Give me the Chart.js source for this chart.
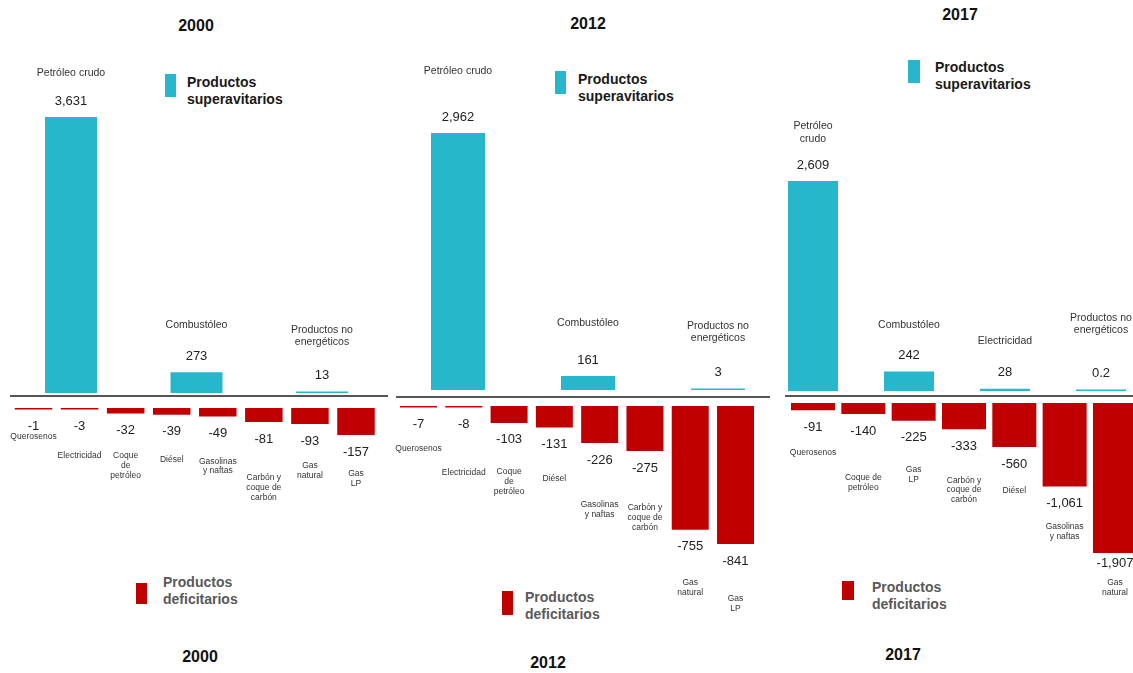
<!DOCTYPE html>
<html>
<head>
<meta charset="utf-8">
<script src="https://cdn.jsdelivr.net/npm/chart.js@4/dist/chart.umd.min.js"></script>
<style>
  html, body { margin:0; padding:0; background:#fff; overflow:hidden; }
  #wrap { position:relative; width:1133px; height:673px; overflow:hidden; background:#fff; font-family:"Liberation Sans", Arial, sans-serif; }
  canvas { position:absolute; }
  .title { position:absolute; transform:translate(-50%,-50%); font-weight:bold; font-size:16px; color:#111; white-space:nowrap; }
  .leg { position:absolute; font-weight:bold; font-size:14px; line-height:17px; white-space:nowrap; }
  .sq { position:absolute; }
</style>
</head>
<body>
<div id="wrap">
  <div class="title" style="left:196px;top:26px">2000</div>
  <div class="title" style="left:588px;top:23.5px">2012</div>
  <div class="title" style="left:960px;top:15px">2017</div>
  <div class="title" style="left:200px;top:657px">2000</div>
  <div class="title" style="left:548px;top:663px">2012</div>
  <div class="title" style="left:903px;top:655px">2017</div>

  <div class="sq" style="left:165px;top:74px;width:11px;height:23px;background:#26B7CD"></div>
  <div class="leg" style="left:187px;top:73.5px;color:#1a1a1a">Productos<br>superavitarios</div>
  <div class="sq" style="left:555px;top:71px;width:11px;height:23px;background:#26B7CD"></div>
  <div class="leg" style="left:578px;top:70.5px;color:#1a1a1a">Productos<br>superavitarios</div>
  <div class="sq" style="left:908px;top:60px;width:12px;height:23px;background:#26B7CD"></div>
  <div class="leg" style="left:935px;top:58.5px;color:#1a1a1a">Productos<br>superavitarios</div>

  <div class="sq" style="left:136px;top:583px;width:11px;height:21px;background:#C00000"></div>
  <div class="leg" style="left:163px;top:573.5px;color:#595959">Productos<br>deficitarios</div>
  <div class="sq" style="left:502px;top:591px;width:11px;height:24px;background:#C00000"></div>
  <div class="leg" style="left:525px;top:588.5px;color:#595959">Productos<br>deficitarios</div>
  <div class="sq" style="left:842px;top:581px;width:12px;height:19px;background:#C00000"></div>
  <div class="leg" style="left:872px;top:578.5px;color:#595959">Productos<br>deficitarios</div>
</div>
<script>
// ---------------- DATA ----------------
const years = ['2000', '2012', '2017'];

const surplusCats2000 = [['Petróleo crudo'], ['Combustóleo'], ['Productos no', 'energéticos']];
const surplusVals2000 = [3631, 273, 13];
const deficitCats2000 = [['Querosenos'], ['Electricidad'], ['Coque', 'de', 'petróleo'], ['Diésel'], ['Gasolinas', 'y naftas'], ['Carbón y', 'coque de', 'carbón'], ['Gas', 'natural'], ['Gas', 'LP']];
const deficitVals2000 = [-1, -3, -32, -39, -49, -81, -93, -157];

const surplusCats2012 = [['Petróleo crudo'], ['Combustóleo'], ['Productos no', 'energéticos']];
const surplusVals2012 = [2962, 161, 3];
const deficitCats2012 = [['Querosenos'], ['Electricidad'], ['Coque', 'de', 'petróleo'], ['Diésel'], ['Gasolinas', 'y naftas'], ['Carbón y', 'coque de', 'carbón'], ['Gas', 'natural'], ['Gas', 'LP']];
const deficitVals2012 = [-7, -8, -103, -131, -226, -275, -755, -841];

const surplusCats2017 = [['Petróleo', 'crudo'], ['Combustóleo'], ['Electricidad'], ['Productos no', 'energéticos']];
const surplusVals2017 = [2609, 242, 28, 0.2];
const deficitCats2017 = [['Querosenos'], ['Coque de', 'petróleo'], ['Gas', 'LP'], ['Carbón y', 'coque de', 'carbón'], ['Diésel'], ['Gasolinas', 'y naftas'], ['Gas', 'natural']];
const deficitVals2017 = [-91, -140, -225, -333, -560, -1061, -1907];

// ---------------- STYLE / LAYOUT ----------------
const TEAL = '#26B7CD';
const RED = '#C00000';
const FONT = '"Liberation Sans", Arial, sans-serif';

const panels = [
  { cats: surplusCats2000, vals: surplusVals2000, dcats: deficitCats2000, dvals: deficitVals2000,
    pos: { c0: 71, step: 125.5, barW: 52, baseY: 393, pxPerUnit: 0.07601, line: [10, 388, 396], catGaps: [44, 47, 49] },
    neg: { c0: 33.5, step: 46.07, barW: 37.5, topY: 408, pxPerUnit: 0.172, catGaps: [27, 46, 42.5, 45, 45, 56, 42, 39], valGaps: {} } },
  { cats: surplusCats2012, vals: surplusVals2012, dcats: deficitCats2012, dvals: deficitVals2012,
    pos: { c0: 458, step: 130, barW: 54, baseY: 390, pxPerUnit: 0.08677, line: [396, 770, 397], catGaps: [62, 53, 50] },
    neg: { c0: 418.5, step: 45.29, barW: 37, topY: 406, pxPerUnit: 0.164, catGaps: [41.5, 65.5, 49, 51.5, 62, 57, 53, 55], valGaps: {} } },
  { cats: surplusCats2017, vals: surplusVals2017, dcats: deficitCats2017, dvals: deficitVals2017,
    pos: { c0: 813, step: 96, barW: 50, baseY: 391, pxPerUnit: 0.08049, line: [785, 1133, 396], catGaps: [42, 46, 48, 59] },
    neg: { c0: 813, step: 50.33, barW: 44, topY: 403, pxPerUnit: 0.0787, catGaps: [42, 64, 49, 51, 44, 40.5, 30], valGaps: { 6: 10 } } }
];

const fmt = v => v.toLocaleString('en-US');

const labelPlugin = {
  id: 'barLabels',
  afterDatasetsDraw(chart, args, o) {
    const ctx = chart.ctx;
    const meta = chart.getDatasetMeta(0);
    const vals = chart.data.datasets[0].data;
    const cats = chart.data.labels;
    ctx.save();
    ctx.textAlign = 'center';
    ctx.textBaseline = 'middle';
    meta.data.forEach((el, i) => {
      const lines = cats[i];
      if (o.side === 'top') {
        ctx.font = o.valueFont; ctx.fillStyle = o.valueColor;
        ctx.fillText(fmt(vals[i]), el.x, el.y - o.valueGap);
        ctx.font = o.catFont; ctx.fillStyle = o.catColor;
        const lastY = el.y - o.catGaps[i];
        lines.forEach((ln, j) => ctx.fillText(ln, el.x, lastY - (lines.length - 1 - j) * o.lineHeight));
      } else {
        const vg = (o.valGaps && o.valGaps[i] !== undefined) ? o.valGaps[i] : o.valueGap;
        ctx.font = o.valueFont; ctx.fillStyle = o.valueColor;
        ctx.fillText(fmt(vals[i]), el.x, el.y + vg);
        ctx.font = o.catFont; ctx.fillStyle = o.catColor;
        const firstY = el.y + o.catGaps[i];
        lines.forEach((ln, j) => ctx.fillText(ln, el.x, firstY + j * o.lineHeight));
      }
    });
    if (o.line) {
      ctx.strokeStyle = '#555';
      ctx.lineWidth = 2;
      ctx.beginPath();
      ctx.moveTo(o.line[0] - o.offsetX, o.line[2]);
      ctx.lineTo(o.line[1] - o.offsetX, o.line[2]);
      ctx.stroke();
    }
    ctx.restore();
  }
};

function makeChart(left, top, width, height, pad, labels, data, color, yMin, yMax, barPct, labelOpts) {
  const cv = document.createElement('canvas');
  cv.width = Math.round(width);
  cv.height = Math.round(height);
  cv.style.left = left + 'px';
  cv.style.top = top + 'px';
  cv.style.width = Math.round(width) + 'px';
  cv.style.height = Math.round(height) + 'px';
  document.getElementById('wrap').appendChild(cv);
  return new Chart(cv, {
    type: 'bar',
    data: { labels: labels, datasets: [{ data: data, backgroundColor: color, borderWidth: 0, minBarLength: 1.5, barPercentage: barPct, categoryPercentage: 1 }] },
    options: {
      responsive: false, maintainAspectRatio: false, animation: false, devicePixelRatio: 1,
      layout: { padding: pad },
      plugins: { legend: { display: false }, tooltip: { enabled: false }, barLabels: labelOpts },
      scales: {
        x: { display: false, grid: { display: false }, offset: true },
        y: { display: false, grid: { display: false }, min: yMin, max: yMax }
      }
    },
    plugins: [labelPlugin]
  });
}

panels.forEach(p => {
  // positive (surplus) chart
  const P = p.pos;
  const n = p.vals.length;
  const areaL = P.c0 - P.step / 2, areaR = areaL + n * P.step;
  const cL = Math.floor(Math.min(P.line[0], areaL)), cR = Math.ceil(Math.max(P.line[1], areaR));
  const botPad = 8;
  makeChart(cL, 0, cR - cL, P.baseY + botPad,
    { left: areaL - cL, right: cR - areaR, top: 0, bottom: botPad },
    p.cats, p.vals, TEAL, 0, P.baseY / P.pxPerUnit, P.barW / P.step,
    { side: 'top', valueFont: '13px ' + FONT, valueColor: '#222', catFont: '10.5px ' + FONT, catColor: '#333',
      valueGap: 16, catGaps: P.catGaps, lineHeight: 12.8, line: P.line, offsetX: cL });

  // negative (deficit) chart
  const N = p.neg;
  const m = p.dvals.length;
  const nL = N.c0 - N.step / 2, nR = nL + m * N.step;
  const H = 640 - N.topY;
  makeChart(Math.floor(nL), N.topY, Math.ceil(nR) - Math.floor(nL), H,
    { left: nL - Math.floor(nL), right: Math.ceil(nR) - nR, top: 0, bottom: 0 },
    p.dcats, p.dvals, RED, -H / N.pxPerUnit, 0, N.barW / N.step,
    { side: 'bottom', valueFont: '13px ' + FONT, valueColor: '#222', catFont: '8.5px ' + FONT, catColor: '#333',
      valueGap: 17, valGaps: N.valGaps, catGaps: N.catGaps, lineHeight: 9.7 });
});
</script>
</body>
</html>
